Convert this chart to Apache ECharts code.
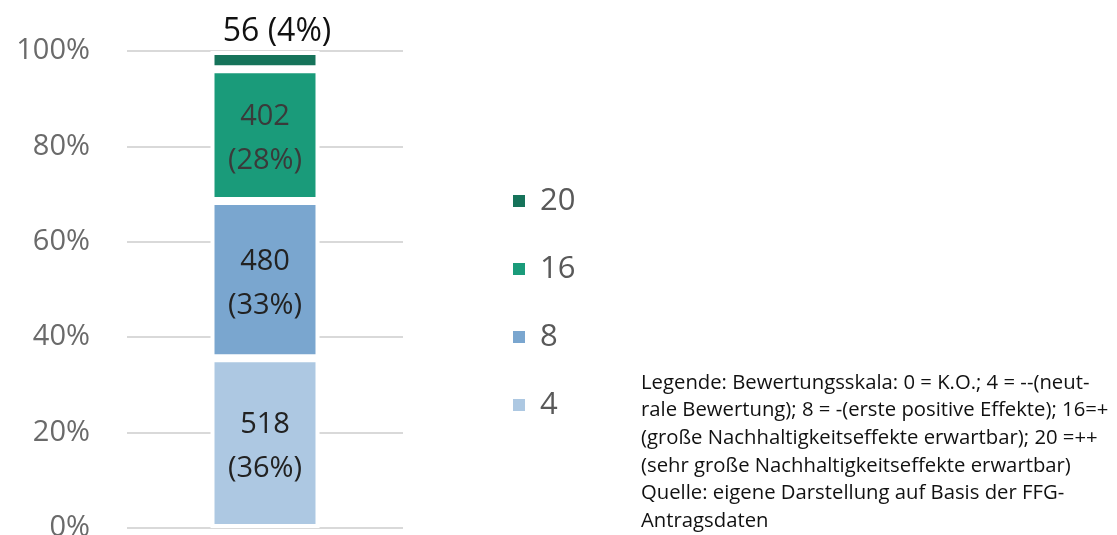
<!DOCTYPE html>
<html><head><meta charset="utf-8">
<script src="https://cdn.jsdelivr.net/npm/echarts@6/dist/echarts.min.js"></script>
<style>html,body{margin:0;padding:0;background:#fff}#c{width:1117px;height:535px}</style>
</head><body><div id="c"></div>
<script>
const categories = [''];
const seriesNames = ['4', '8', '16', '20'];
const counts = [518, 480, 402, 56];
const shareLabels = ['36%', '33%', '28%', '4%'];
const colors = ['#adc8e2', '#7aa6cf', '#1a9b7a', '#16735a'];
const yTicks = [0, 20, 40, 60, 80, 100];
const noteText = 'Legende: Bewertungsskala: 0 = K.O.; 4 = --(neut-\nrale Bewertung); 8 = -(erste positive Effekte); 16=+\n(große Nachhaltigkeitseffekte erwartbar); 20 =++\n(sehr große Nachhaltigkeitseffekte erwartbar)\nQuelle: eigene Darstellung auf Basis der FFG-\nAntragsdaten';

const total = counts.reduce((a, b) => a + b, 0);
const FONT = '"Open Sans", "Noto Sans", sans-serif';

const series = seriesNames.map((name, i) => {
  const isTop = i === seriesNames.length - 1;
  return {
    name: name,
    type: 'bar',
    stack: 'all',
    barWidth: 109,
    data: [counts[i] / total * 100],
    itemStyle: { color: colors[i], borderColor: '#fff', borderWidth: 4 },
    label: isTop ? {
      show: true, position: 'top', distance: 3, offset: [12, 0],
      formatter: () => counts[i] + ' (' + shareLabels[i] + ')',
      fontFamily: FONT, fontSize: 32, color: '#111'
    } : {
      show: true, position: 'inside', offset: [0, 4],
      formatter: () => counts[i] + '\n(' + shareLabels[i] + ')',
      fontFamily: FONT, fontSize: 29, lineHeight: 44,
      color: i === 2 ? '#3a3a3a' : '#222'
    }
  };
});

const chart = echarts.init(document.getElementById('c'), null, { renderer: 'canvas' });
chart.setOption({
  animation: false,
  backgroundColor: '#fff',
  grid: { left: 127, right: 714, top: 51, bottom: 7, containLabel: false, outerBoundsMode: 'none' },
  xAxis: {
    type: 'category', data: categories,
    axisLine: { show: false }, axisTick: { show: false }, axisLabel: { show: false }
  },
  yAxis: {
    type: 'value', min: 0, max: 100, interval: 20,
    axisLine: { show: false }, axisTick: { show: false },
    splitLine: { lineStyle: { color: '#d9d9d9', width: 2 } },
    axisLabel: {
      margin: 37, fontFamily: FONT, fontSize: 29, color: '#6a6a6a',
      formatter: v => yTicks.includes(v) ? v + '%' : ''
    }
  },
  legend: {
    orient: 'vertical', left: 508, top: 178,
    data: seriesNames.slice().reverse(),
    icon: 'rect', itemWidth: 12, itemHeight: 12, itemGap: 32,
    itemStyle: { borderWidth: 0 },
    textStyle: { fontFamily: FONT, fontSize: 31, color: '#595959', lineHeight: 36, padding: [0, 0, 0, 10] }
  },
  graphic: [{
    type: 'text', left: 641, top: 369,
    style: { text: noteText, fontFamily: FONT, fontSize: 20.3, lineHeight: 27.7, fill: '#111' }
  }],
  series: series
});
</script></body></html>
